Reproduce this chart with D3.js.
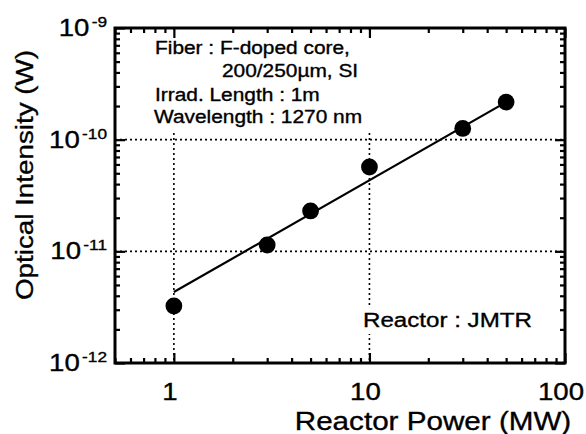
<!DOCTYPE html>
<html>
<head>
<meta charset="utf-8">
<script src="https://cdn.jsdelivr.net/npm/d3@7"></script>
<style>
  html, body { margin: 0; padding: 0; background: #fff; }
  svg { display: block; }
  text { font-family: "Liberation Sans", Arial, Helvetica, sans-serif; fill: #000; stroke: #000; stroke-width: 0.35px; }
</style>
</head>
<body>
<svg id="chart" width="586" height="434"></svg>
<script>
// Measured optical intensity vs reactor power
const powerMW = [1, 3, 5, 10, 30, 50];
const intensityW = [3.24e-12, 1.14e-11, 2.30e-11, 5.69e-11, 1.26e-10, 2.17e-10];

// Power-law fit through the measurements
const fitPower = [1, 50];
const fitIntensity = [4.32e-12, 2.17e-10];

// Axis ticks and labels
const xTickValues = [1, 10, 100];
const xTickLabels = ["1", "10", "100"];
const yTickExponents = [-12, -11, -10, -9];
const xGridValues = [1, 10];
const yGridValues = [1e-11, 1e-10];

const xTitle = "Reactor Power (MW)";
const yTitle = "Optical Intensity (W)";
const conditionLines = [
  "Fiber : F-doped core,",
  "200/250\u00b5m, SI",
  "Irrad. Length : 1m",
  "Wavelength : 1270 nm"
];
const reactorNote = "Reactor : JMTR";

const svg = d3.select("#chart");
const plot = { left: 115, right: 565, top: 28, bottom: 363 };

const x = d3.scaleLog().domain([0.5, 100]).range([plot.left, plot.right]);
const y = d3.scaleLog().domain([1e-12, 1e-9]).range([plot.bottom, plot.top]);

svg.append("rect").attr("width", 586).attr("height", 434).attr("fill", "#fff");

// Dotted grid at the decades
const grid = svg.append("g").attr("stroke", "#000").attr("stroke-width", 1.6)
  .attr("stroke-dasharray", "2,3");
grid.selectAll("line.gx").data(xGridValues).join("line").attr("class", "gx")
  .attr("x1", d => x(d)).attr("x2", d => x(d))
  .attr("y1", plot.top).attr("y2", plot.bottom);
grid.selectAll("line.gy").data(yGridValues).join("line").attr("class", "gy")
  .attr("x1", plot.left).attr("x2", plot.right)
  .attr("y1", d => y(d)).attr("y2", d => y(d));

// Text with a slightly wider set than the stock face
function wideText(parent, px, py, str, size, sx, anchor, rotated) {
  const g = parent.append("g")
    .attr("transform", `translate(${px},${py})${rotated ? " rotate(-90)" : ""} scale(${sx},1)`);
  return g.append("text").attr("font-size", size).attr("text-anchor", anchor).text(str);
}

// Condition notes with white backing
svg.append("rect").attr("x", 148).attr("y", 33).attr("width", 230).attr("height", 98).attr("fill", "#fff");
const noteX = [155, 222, 155, 154];
const noteY = [54, 77, 101, 123];
conditionLines.forEach((t, i) => wideText(svg, noteX[i], noteY[i], t, 18, 1.16, "start"));

svg.append("rect").attr("x", 358).attr("y", 307).attr("width", 178).attr("height", 27).attr("fill", "#fff");
wideText(svg, 363, 327, reactorNote, 21, 1.15, "start");

// Fit line
const line = d3.line().x(d => x(d[0])).y(d => y(d[1]));
svg.append("path")
  .datum(fitPower.map((p, i) => [p, fitIntensity[i]]))
  .attr("d", line).attr("fill", "none").attr("stroke", "#000").attr("stroke-width", 2.2);

// Data points
svg.selectAll("circle.pt").data(powerMW.map((p, i) => [p, intensityW[i]])).join("circle")
  .attr("class", "pt")
  .attr("cx", d => x(d[0])).attr("cy", d => y(d[1])).attr("r", 8.4).attr("fill", "#000");

// Inward ticks on all four sides
const isMajor = v => Math.abs(Math.log10(v) - Math.round(Math.log10(v))) < 1e-6;
const xMajor = x.ticks().filter(isMajor), xMinor = x.ticks().filter(v => !isMajor(v));
const yMajor = y.ticks().filter(isMajor), yMinor = y.ticks().filter(v => !isMajor(v));

function ticks(axisFn, scale, values, size, transform) {
  const g = svg.append("g").attr("transform", transform)
    .call(axisFn(scale).tickValues(values).tickSizeInner(-size).tickSizeOuter(0).tickFormat(""));
  g.select(".domain").remove();
  g.selectAll(".tick line").attr("stroke", "#000").attr("stroke-width", 2.2);
}
ticks(d3.axisBottom, x, xMajor, 10, `translate(0,${plot.bottom})`);
ticks(d3.axisBottom, x, xMinor, 5, `translate(0,${plot.bottom})`);
ticks(d3.axisTop, x, xMajor, 10, `translate(0,${plot.top})`);
ticks(d3.axisTop, x, xMinor, 5, `translate(0,${plot.top})`);
ticks(d3.axisLeft, y, yMajor, 10, `translate(${plot.left},0)`);
ticks(d3.axisLeft, y, yMinor, 5, `translate(${plot.left},0)`);
ticks(d3.axisRight, y, yMajor, 10, `translate(${plot.right},0)`);
ticks(d3.axisRight, y, yMinor, 5, `translate(${plot.right},0)`);

// Frame
svg.append("rect")
  .attr("x", plot.left).attr("y", plot.top)
  .attr("width", plot.right - plot.left).attr("height", plot.bottom - plot.top)
  .attr("fill", "none").attr("stroke", "#000").attr("stroke-width", 3);

// Tick labels
xTickValues.forEach((v, i) => wideText(svg, x(v) - 4, 400, xTickLabels[i], 24, 1.15, "middle"));

yTickExponents.forEach(e => {
  const g = svg.append("g").attr("transform", `translate(107,${y(Math.pow(10, e)) + 8}) scale(1.15,1)`);
  const t = g.append("text").attr("text-anchor", "end");
  t.append("tspan").attr("font-size", 24).text("10");
  t.append("tspan").attr("font-size", 15).attr("dx", 2).attr("dy", -9).text(String(e));
});

// Axis titles
wideText(svg, 433, 429.5, xTitle, 26, 1.14, "middle");
wideText(svg, 33, 175, yTitle, 24.5, 1.135, "middle", true);
</script>
</body>
</html>
